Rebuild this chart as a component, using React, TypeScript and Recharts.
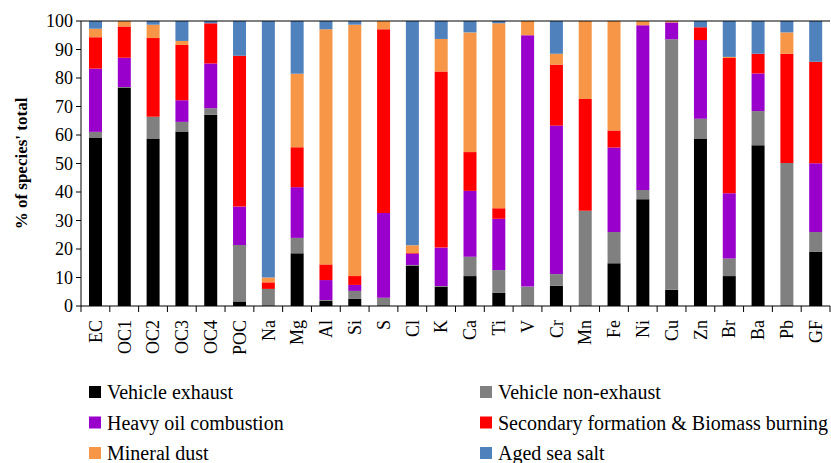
import React from 'react';
import { BarChart, Bar, XAxis, YAxis, Legend, ReferenceLine } from 'recharts';

const species = ['EC', 'OC1', 'OC2', 'OC3', 'OC4', 'POC', 'Na', 'Mg', 'Al', 'Si', 'S', 'Cl', 'K', 'Ca', 'Ti', 'V', 'Cr', 'Mn', 'Fe', 'Ni', 'Cu', 'Zn', 'Br', 'Ba', 'Pb', 'GF'];

// % of each species' total attributed to each source
const vehicleExhaust = [59.1, 76.5, 58.8, 61.2, 67.1, 1.6, 0, 18.5, 1.9, 2.6, 0, 14.2, 6.8, 10.5, 4.7, 0, 7.1, 0, 15.0, 37.5, 5.7, 58.8, 10.5, 56.4, 0, 19.1];
const vehicleNonExhaust = [2.0, 0.3, 7.6, 3.4, 2.3, 19.8, 6.0, 5.4, 0.2, 2.7, 2.9, 0.2, 0.2, 6.8, 7.9, 6.8, 4.1, 33.4, 11.0, 3.2, 87.9, 6.9, 6.2, 12.0, 50.2, 6.9];
const heavyOil = [22.2, 10.3, 0, 7.6, 15.7, 13.5, 0, 17.8, 7.0, 2.1, 29.7, 4.0, 13.5, 23.1, 18.0, 88.2, 52.1, 0, 29.6, 57.8, 5.9, 27.6, 22.9, 13.2, 0, 24.1];
const secondaryBiomass = [11.0, 11.0, 27.6, 19.4, 14.1, 52.9, 2.3, 14.0, 5.5, 3.1, 64.5, 0.2, 61.8, 13.6, 3.7, 0, 21.4, 39.2, 6.0, 0, 0, 4.5, 47.4, 6.9, 38.3, 35.6];
const mineralDust = [3.0, 1.9, 4.7, 1.4, 0, 0, 1.7, 25.8, 82.5, 88.2, 2.9, 2.7, 11.4, 42.0, 64.9, 5.0, 3.8, 27.4, 38.4, 1.5, 0.5, 0, 0.4, 0, 7.5, 0];
const agedSeaSalt = [2.7, 0, 1.3, 7.0, 0.8, 12.2, 90.0, 18.5, 2.9, 1.3, 0, 78.7, 6.3, 4.0, 0.8, 0, 11.5, 0, 0, 0, 0, 2.2, 12.6, 11.5, 4.0, 14.3];

const yTicks = [0, 10, 20, 30, 40, 50, 60, 70, 80, 90, 100];

const sources = [
  { key: 've', name: 'Vehicle exhaust', color: '#000000', values: vehicleExhaust },
  { key: 'vne', name: 'Vehicle non-exhaust', color: '#808080', values: vehicleNonExhaust },
  { key: 'hoc', name: 'Heavy oil combustion', color: '#9900CC', values: heavyOil },
  { key: 'sec', name: 'Secondary formation & Biomass burning', color: '#FF0000', values: secondaryBiomass },
  { key: 'md', name: 'Mineral dust', color: '#F79646', values: mineralDust },
  { key: 'ss', name: 'Aged sea salt', color: '#4F81BD', values: agedSeaSalt },
];

const data = species.map((name, i) => {
  const row: Record<string, string | number> = { name };
  sources.forEach((s) => {
    row[s.key] = s.values[i];
  });
  return row;
});

const WIDTH = 831;
const HEIGHT = 463;
const AXIS_W = 81;
const RIGHT = 1;
const band = (WIDTH - AXIS_W - RIGHT) / species.length;
const FONT = "'Liberation Serif', 'DejaVu Serif', serif";

const SpeciesTick = (props: any) => {
  const { x, y, payload, index } = props;
  const left = x - band / 2;
  return (
    <g>
      <line x1={left} y1={y} x2={left} y2={y + 6} stroke="#000" />
      {index === species.length - 1 && (
        <line x1={x + band / 2} y1={y} x2={x + band / 2} y2={y + 6} stroke="#000" />
      )}
      <text
        transform={`translate(${x},${y + 14}) rotate(-90)`}
        textAnchor="end"
        dy="0.35em"
        fontSize={18}
        fontFamily={FONT}
        fill="#000"
      >
        {payload.value}
      </text>
    </g>
  );
};

// two-column legend underneath the axis labels
const SourceLegend = () => (
  <svg width={WIDTH} height={100} style={{ display: 'block' }}>
    {sources.map((s, i) => {
      const col = i % 2;
      const row = Math.floor(i / 2);
      const x = col === 0 ? 89 : 480;
      const cy = 29 + row * 30.5;
      return (
        <g key={s.key}>
          <rect x={x} y={cy - 6} width={12} height={12} fill={s.color} />
          <text x={x + 18} y={cy} dy="0.35em" fontSize={20} fontFamily={FONT} fill="#000">
            {s.name}
          </text>
        </g>
      );
    })}
  </svg>
);

export default function App() {
  return (
    <div style={{ position: 'absolute', left: 0, top: 0, width: WIDTH, height: HEIGHT, background: '#fff' }}>
      <BarChart
        width={WIDTH}
        height={HEIGHT}
        data={data}
        margin={{ top: 21, right: RIGHT, left: 0, bottom: 0 }}
        barSize={13}
      >
        <XAxis
          dataKey="name"
          interval={0}
          height={57}
          tickLine={false}
          tickSize={0}
          tickMargin={0}
          axisLine={{ stroke: '#000' }}
          tick={<SpeciesTick />}
        />
        <YAxis
          width={AXIS_W}
          domain={[0, 100]}
          ticks={yTicks}
          interval={0}
          tickSize={5}
          tickMargin={3}
          axisLine={{ stroke: '#000' }}
          tickLine={{ stroke: '#000' }}
          tick={{ fill: '#000', fontSize: 18, fontFamily: FONT }}
          label={{
            value: "% of species' total",
            angle: -90,
            position: 'insideLeft',
            dx: 16,
            style: { textAnchor: 'middle', fontWeight: 'bold', fontSize: 17, fontFamily: FONT, fill: '#000' },
          }}
        />
        <ReferenceLine y={100} stroke="#000" />
        <Legend verticalAlign="bottom" wrapperStyle={{ left: 0, width: WIDTH }} content={<SourceLegend />} />
        {sources.map((s) => (
          <Bar key={s.key} dataKey={s.key} name={s.name} stackId="a" fill={s.color} isAnimationActive={false} />
        ))}
      </BarChart>
    </div>
  );
}
